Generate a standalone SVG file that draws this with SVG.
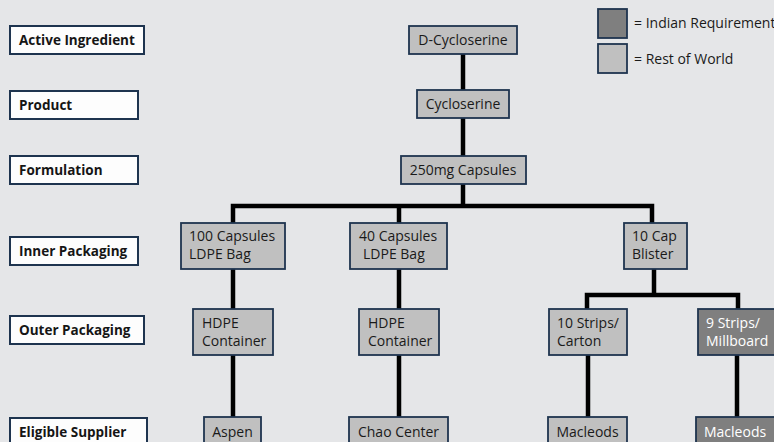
<svg xmlns="http://www.w3.org/2000/svg" width="774" height="442" viewBox="0 0 774 442">
  <style>
    .bg { fill: #e5e6e8; }
    .lbl rect { fill: #fdfdfd; stroke: #1e344f; stroke-width: 2; }
    .lbl text { font-family: "Open Sans", "DejaVu Sans", sans-serif; font-weight: bold; font-size: 13.5px; fill: #151515; }
    .node rect { stroke: #1e344f; stroke-width: 1.8; }
    .node text { font-family: "Open Sans", "DejaVu Sans", sans-serif; font-size: 14px; fill: #1a1a1a; }
    .row rect { fill: #c0c0c0; }
    .ind rect { fill: #7f7f7f; }
    .ind text { fill: #ffffff; }
    .c { text-anchor: middle; }
    .wire { fill: none; stroke: #000000; stroke-width: 4.5; stroke-linejoin: miter; stroke-linecap: butt; }
  </style>

  <rect class="bg" x="0" y="0" width="774" height="442"/>

  <!-- level labels -->
  <g id="lbl-active" class="lbl"><rect x="10" y="26" width="134" height="28"/><text x="19" y="45">Active Ingredient</text></g>
  <g id="lbl-product" class="lbl"><rect x="10" y="91" width="128" height="28"/><text x="19" y="110">Product</text></g>
  <g id="lbl-formulation" class="lbl"><rect x="10" y="156" width="128" height="28"/><text x="19" y="175">Formulation</text></g>
  <g id="lbl-inner" class="lbl"><rect x="10" y="237" width="128" height="28"/><text x="19" y="256">Inner Packaging</text></g>
  <g id="lbl-outer" class="lbl"><rect x="10" y="316" width="134" height="28"/><text x="19" y="335">Outer Packaging</text></g>
  <g id="lbl-supplier" class="lbl"><rect x="10" y="418" width="137" height="28"/><text x="19" y="437">Eligible Supplier</text></g>

  <!-- legend -->
  <g id="legend-indian" class="node ind"><rect x="598" y="9" width="29" height="29"/></g>
  <g id="legend-indian-text" class="node"><text x="634" y="28">= Indian Requirement</text></g>
  <g id="legend-row" class="node row"><rect x="598" y="44" width="29" height="29"/></g>
  <g id="legend-row-text" class="node"><text x="634" y="64">= Rest of World</text></g>

  <!-- connectors -->
  <g id="connectors" class="wire">
    <path d="M463,54 V90"/>
    <path d="M463,118 V156"/>
    <path d="M463,184 V206"/>
    <path d="M233,223 V206 H652 V223"/>
    <path d="M399,206 V223"/>
    <path d="M233,269 V309"/>
    <path d="M399,269 V309"/>
    <path d="M654,269 V295"/>
    <path d="M587,309 V295 H738 V309"/>
    <path d="M233,355 V417"/>
    <path d="M399,355 V417"/>
    <path d="M588,355 V417"/>
    <path d="M737,355 V417"/>
  </g>

  <!-- nodes -->
  <g id="n-dcycloserine" class="node row"><rect x="409" y="26" width="108" height="28"/><text class="c" x="463" y="45">D-Cycloserine</text></g>
  <g id="n-cycloserine" class="node row"><rect x="417" y="90" width="92" height="28"/><text class="c" x="463" y="109">Cycloserine</text></g>
  <g id="n-250mg" class="node row"><rect x="401" y="156" width="125" height="28"/><text class="c" x="463" y="175">250mg Capsules</text></g>

  <g id="n-100cap" class="node row"><rect x="181" y="223" width="104" height="46"/><text x="189" y="241">100 Capsules</text><text x="189" y="259">LDPE Bag</text></g>
  <g id="n-40cap" class="node row"><rect x="350" y="223" width="97" height="46"/><text x="359" y="241">40 Capsules</text><text x="363" y="259">LDPE Bag</text></g>
  <g id="n-blister" class="node row"><rect x="624" y="223" width="63" height="46"/><text x="632" y="241">10 Cap</text><text x="632" y="259">Blister</text></g>

  <g id="n-hdpe1" class="node row"><rect x="193" y="309" width="80" height="46"/><text x="202" y="328">HDPE</text><text x="202" y="346">Container</text></g>
  <g id="n-hdpe2" class="node row"><rect x="359" y="309" width="80" height="46"/><text x="368" y="328">HDPE</text><text x="368" y="346">Container</text></g>
  <g id="n-carton" class="node row"><rect x="549" y="309" width="78" height="46"/><text x="557" y="328">10 Strips/</text><text x="557" y="346">Carton</text></g>
  <g id="n-millboard" class="node ind"><rect x="698" y="309" width="78" height="46"/><text x="706" y="328">9 Strips/</text><text x="706" y="346">Millboard</text></g>

  <g id="n-aspen" class="node row"><rect x="204" y="417" width="57" height="30"/><text class="c" x="232.5" y="437">Aspen</text></g>
  <g id="n-chao" class="node row"><rect x="349" y="417" width="99" height="30"/><text class="c" x="398.5" y="437">Chao Center</text></g>
  <g id="n-macleods1" class="node row"><rect x="548" y="417" width="79" height="30"/><text class="c" x="587.5" y="437">Macleods</text></g>
  <g id="n-macleods2" class="node ind"><rect x="696" y="417" width="80" height="30"/><text x="704" y="437">Macleods</text></g>
</svg>
